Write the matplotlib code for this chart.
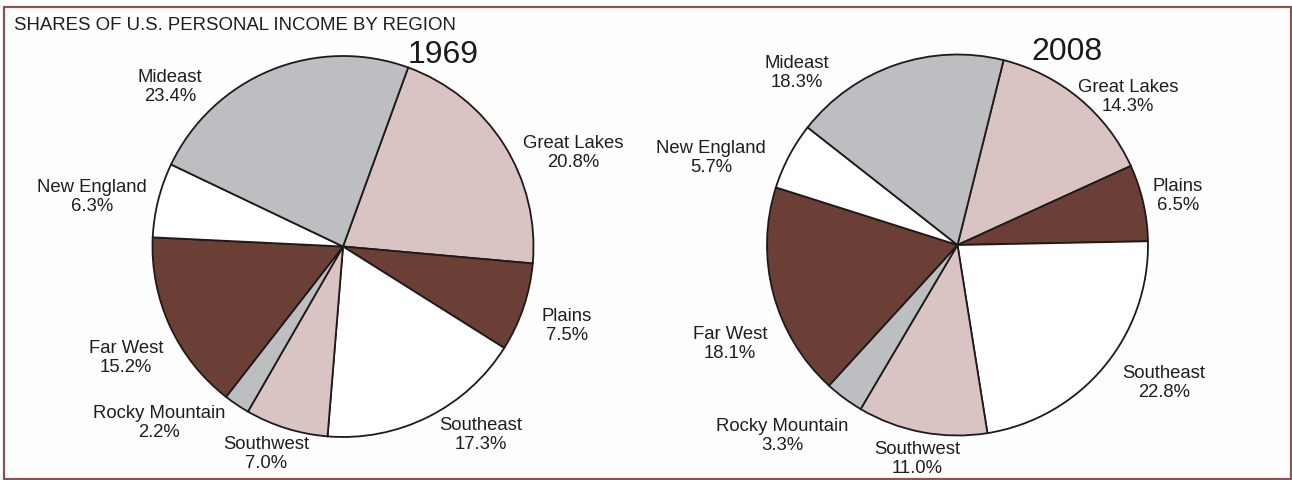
import matplotlib.pyplot as plt
from matplotlib.patches import Rectangle

plt.rcParams['font.family'] = ['Liberation Sans', 'DejaVu Sans']

# Regions in clockwise order starting at Great Lakes
regions = ['Great Lakes', 'Plains', 'Southeast', 'Southwest',
           'Rocky Mountain', 'Far West', 'New England', 'Mideast']
shares_1969 = [20.8, 7.5, 17.3, 7.0, 2.2, 15.2, 6.3, 23.4]
shares_2008 = [14.3, 6.5, 22.8, 11.0, 3.3, 18.1, 5.7, 18.3]

colors = ['#d9c3c3', '#6b3f36', '#ffffff', '#d9c3c3',
          '#bcbec1', '#6b3f36', '#ffffff', '#bcbec1']

W, H = 1292, 481
fig = plt.figure(figsize=(W / 100, H / 100), dpi=100)
fig.patch.set_facecolor('#fefefe')
ax = fig.add_axes([0, 0, 1, 1])
ax.set_xlim(0, W)
ax.set_ylim(0, H)
ax.set_aspect('equal')
ax.axis('off')

# frame around the panel
ax.add_patch(Rectangle((4, 1.5), W - 5, H - 9, fill=False,
                       edgecolor='#8c5252', linewidth=1.6))

ax.text(14, H - 25, 'SHARES OF U.S. PERSONAL INCOME BY REGION',
        fontsize=13.4, va='center', ha='left', color='#1e1e1e')

wedge_style = dict(edgecolor='#1e1a1a', linewidth=1.3)

# (center in pixels, start angle, label positions in pixels)
panels = [
    (shares_1969, (343, 247.5), 70.0, '1969', (443, 55),
     [(573, 153), (567, 326), (481, 435), (266, 454),
      (159, 423), (126, 358), (92, 197), (170, 87)]),
    (shares_2008, (957.5, 246), 76.0, '2008', (1067, 52),
     [(1128, 97), (1178, 196), (1164, 383), (917, 459),
      (782, 436), (730, 344), (711, 158), (797, 73)]),
]

for shares, (cx, cy), start, year, (tx, ty), label_pos in panels:
    ax.pie(shares, colors=colors, startangle=start, counterclock=False,
           center=(cx, H - cy), radius=190.5, wedgeprops=wedge_style,
           frame=True)
    ax.text(tx, H - ty, year, fontsize=23, ha='center', va='center',
            color='#1a1a1a')
    for name, val, (lx, ly) in zip(regions, shares, label_pos):
        ax.text(lx, H - ly, f'{name}\n{val:.1f}%', fontsize=13.3,
                ha='center', va='center', color='#1e1e1e',
                linespacing=1.2)

ax.set_xlim(0, W)
ax.set_ylim(0, H)
ax.axis('off')

fig.savefig('out.png', dpi=100, facecolor=fig.get_facecolor())
